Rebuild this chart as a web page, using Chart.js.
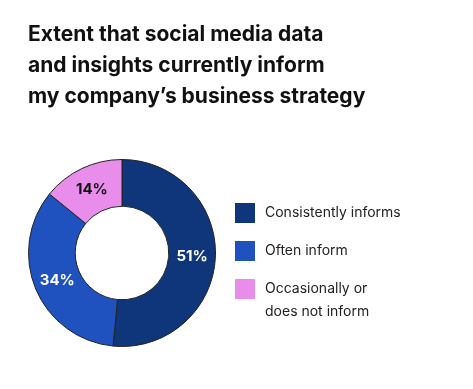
<!DOCTYPE html>
<html>
<head>
<meta charset="utf-8">
<script src="https://cdn.jsdelivr.net/npm/chart.js@4"></script>
<style>
  html, body { margin: 0; padding: 0; background: #fff; }
  #wrap { width: 473px; height: 389px; }
</style>
</head>
<body>
<div id="wrap"><canvas id="informChart" width="473" height="389"></canvas></div>
<script>
const titleLines = ['Extent that social media data', 'and insights currently inform', 'my company\u2019s business strategy'];
const categories = [['Consistently informs'], ['Often inform'], ['Occasionally or', 'does not inform']];
const shares = [51, 34, 14];
const colors = ['#0f357a', '#1f52bf', '#e88de9'];
const labelColors = ['#ffffff', '#ffffff', '#111111'];

const FONT = 'Inter, "Noto Sans", sans-serif';

// title and legend drawn next to the donut
const extras = {
    id: 'extras',
    afterDraw(chart) {
        const ctx = chart.ctx;
        ctx.save();
        ctx.fillStyle = '#111';
        ctx.textBaseline = 'middle';
        ctx.textAlign = 'left';
        ctx.font = 'bold 21px ' + FONT;
        titleLines.forEach((t, i) => ctx.fillText(t, 28, 35 + i * 31));

        ctx.font = '14px ' + FONT;
        let y = 213;
        categories.forEach((lines, i) => {
            ctx.fillStyle = colors[i];
            ctx.fillRect(235, y - 10, 20, 20);
            ctx.fillStyle = '#222';
            lines.forEach((l, j) => ctx.fillText(l, 265, y + j * 23));
            y += 38;
        });

        // values on the slices
        const meta = chart.getDatasetMeta(0);
        ctx.textAlign = 'center';
        ctx.font = 'bold 15px ' + FONT;
        meta.data.forEach((arc, i) => {
            const p = arc.tooltipPosition();
            ctx.fillStyle = labelColors[i];
            ctx.fillText(shares[i] + '%', p.x, p.y);
        });
        ctx.restore();
    }
};

new Chart(document.getElementById('informChart'), {
    type: 'doughnut',
    data: {
        labels: categories.map(c => c.join(' ')),
        datasets: [{
            data: shares,
            backgroundColor: colors,
            borderColor: '#222',
            borderWidth: 1
        }]
    },
    options: {
        responsive: false,
        animation: false,
        cutout: '50%',
        layout: { padding: { left: 28, right: 257, top: 159, bottom: 42 } },
        plugins: {
            legend: { display: false },
            tooltip: { enabled: false }
        }
    },
    plugins: [extras]
});
</script>
</body>
</html>
